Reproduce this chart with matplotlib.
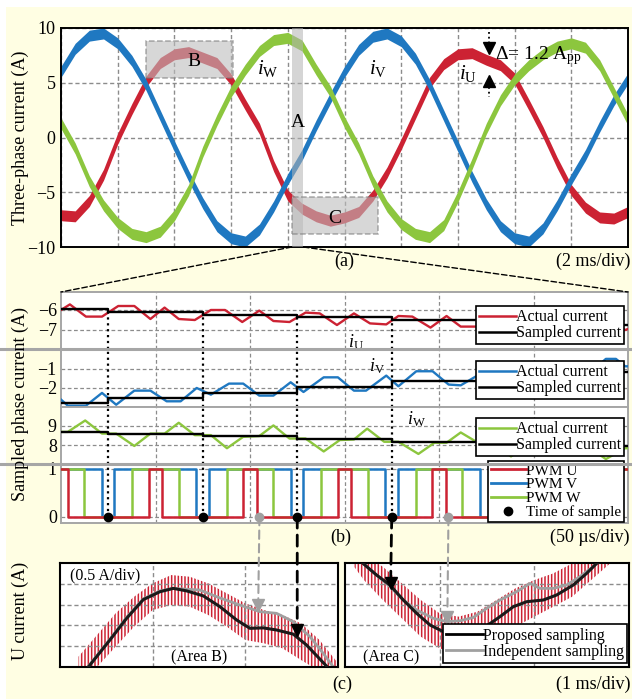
import numpy as np
import matplotlib
matplotlib.use('Agg')
import matplotlib.pyplot as plt
from matplotlib.patches import Rectangle, ConnectionPatch
from matplotlib.lines import Line2D

plt.rcParams['font.family'] = ['Liberation Serif', 'DejaVu Serif']
plt.rcParams['mathtext.fontset'] = 'custom'
plt.rcParams['mathtext.rm'] = 'Liberation Serif'
plt.rcParams['mathtext.it'] = 'Liberation Serif:italic'
plt.rcParams['hatch.linewidth'] = 1.1

RED = '#cc2233'
BLUE = '#1f78c1'
GREEN = '#8cc63e'
GRID = '#8c8c8c'
PANEL = '#a6a6a6'
LGRAY = '#a0a0a0'
YEL = '#fffee3'

# ---- (a) three-phase current, one value every 0.5 ms (ms, A)
t_a = np.linspace(0, 20, 41)
i_u = [-7.1, -7.2, -5.8, -3.4, -0.1, 2.6, 5.1, 6.8, 7.6, 7.8, 7.3, 6.8, 5.3, 3.0,
       0.8, -2.6, -5.3, -6.5, -7.2, -7.6, -7.3, -6.8, -5.3, -3.2, -0.6, 2.2, 5.0,
       6.7, 7.6, 7.7, 7.1, 6.6, 5.4, 3.0, 0.5, -2.3, -4.8, -6.4, -7.3, -7.4, -6.8]
i_v = [6.0, 8.1, 9.3, 9.5, 8.6, 7.0, 4.8, 2.0, -0.8, -3.5, -6.0, -8.1, -9.2, -9.5,
       -8.4, -6.3, -3.8, -1.6, 1.1, 3.6, 6.0, 8.0, 9.2, 9.5, 8.8, 7.2, 4.8, 2.0,
       -0.8, -3.6, -6.1, -8.1, -9.2, -9.5, -8.3, -6.2, -3.8, -1.6, 1.0, 3.4, 5.4]
i_w = [1.3, -1.0, -4.0, -6.2, -7.8, -8.8, -9.1, -8.6, -7.1, -4.8, -1.3, 1.6, 4.2,
       6.2, 7.9, 8.9, 9.1, 8.4, 6.2, 4.2, 1.4, -1.0, -4.0, -6.3, -7.9, -8.8, -9.1,
       -8.0, -5.4, -2.4, 0.8, 3.4, 5.3, 6.6, 7.6, 8.3, 8.6, 8.2, 6.6, 4.1, 1.6]
band_half = 0.5

# ---- (b) zoom of area A (us, A)
u_act_t = [0, 4.7, 13.2, 21.7, 30.3, 38.8, 47.3, 54.8, 62.3, 70.8, 79.3, 86.8, 95.9,
           104.9, 112.4, 120.9, 129.4, 136.9, 146.0, 155.0, 163.5, 172.1, 178.5,
           185.9, 195.5, 204.0, 211.5, 221.1, 229.6, 237.0, 245.6, 254.0, 262.7,
           271.2, 279.7, 288.3, 298.5, 300]
u_act = [-6.0, -5.72, -6.33, -6.33, -5.8, -5.8, -6.45, -5.88, -6.45, -6.5, -6.0, -6.0,
         -6.6, -6.03, -6.55, -6.6, -6.13, -6.17, -6.75, -6.17, -6.67, -6.72, -6.3,
         -6.33, -6.88, -6.3, -6.83, -6.83, -6.35, -6.4, -6.97, -6.42, -6.92, -6.97,
         -6.5, -6.55, -7.0, -6.95]
v_act_t = [0, 3.6, 13.2, 21.7, 29.2, 38.8, 47.3, 55.9, 63.3, 71.8, 79.3, 88.9, 96.4,
           104.9, 112.4, 121.5, 128.3, 139.0, 146.5, 155.0, 161.4, 172.1, 178.5,
           188.0, 196.6, 205.1, 211.5, 221.1, 227.5, 237.1, 245.6, 254.1, 262.7,
           271.2, 278.7, 288.3, 293.6, 298.5, 300]
v_act = [-2.61, -2.93, -2.93, -2.26, -2.88, -2.14, -2.14, -2.70, -2.70, -2.0, -2.35,
         -1.77, -1.77, -2.40, -2.40, -1.70, -2.21, -1.44, -1.44, -2.14, -2.14, -1.35,
         -1.91, -1.12, -1.12, -1.82, -1.86, -1.30, -1.82, -1.04, -1.04, -1.65, -1.65,
         -0.95, -1.30, -0.47, -0.47, -0.86, -0.86]
w_act_t = [0, 3.6, 12.8, 21.7, 29.2, 38.8, 47.3, 54.8, 62.3, 70.8, 79.3, 87.8, 96.4,
           104.9, 112.4, 120.9, 129.4, 139.0, 147.5, 155.0, 162.0, 171.0, 178.5,
           189.1, 197.6, 204.0, 211.5, 221.1, 228.5, 238.1, 246.7, 254.1, 261.6,
           270.1, 278.7, 288.3, 298.5, 300]
w_act = [8.69, 8.69, 9.29, 8.60, 8.60, 7.95, 8.60, 8.60, 9.17, 8.52, 8.52, 7.83, 8.43,
         8.47, 9.03, 8.34, 8.34, 7.66, 8.26, 8.29, 8.86, 8.17, 8.17, 7.53, 8.12, 8.12,
         8.66, 8.09, 8.09, 7.40, 8.0, 8.0, 8.57, 7.91, 7.91, 7.26, 7.83, 7.83]
samp_t = [0, 25, 75, 125, 175, 225, 275, 300]
u_samp = [-5.93, -6.08, -6.25, -6.37, -6.5, -6.63, -6.75, -6.75]
v_samp = [-2.77, -2.53, -2.26, -1.93, -1.62, -1.38, -1.15, -1.15]
w_samp = [8.69, 8.6, 8.48, 8.34, 8.17, 8.05, 7.95, 7.95]

pwm_u_t = [0, 3.7, 46.3, 53.7, 96.3, 103.7, 146.3, 153.7, 196.3, 203.7, 246.3, 253.7, 296.3, 300]
pwm_v_t = [0, 21.5, 28.3, 71.5, 78.3, 121.5, 128.3, 171.5, 178.3, 221.5, 228.3, 271.5, 278.3, 300]
pwm_w_t = [0, 12.3, 37.7, 62.3, 87.7, 112.3, 137.7, 162.3, 187.7, 212.3, 237.7, 262.3, 287.7, 300]
pwm_lvl = [1, 0, 1, 0, 1, 0, 1, 0, 1, 0, 1, 0, 1, 1]

sample_black = [25, 75, 125, 175]
sample_gray = [105, 205]

# ---- (c) U current, area B (ms, A)
b_prop_t = [0.306, 0.539, 0.719, 0.899, 1.079, 1.223, 1.366, 1.546, 1.726, 1.906,
            2.05, 2.193, 2.337, 2.517, 2.66, 2.877]
b_prop = [5.5, 6.15, 6.67, 7.12, 7.31, 7.39, 7.33, 7.21, 6.95, 6.63, 6.43, 6.44, 6.39,
          6.29, 6.03, 5.52]
b_ind_t = [0.30, 0.54, 0.72, 0.90, 1.08, 1.223, 1.51, 1.69, 1.94, 2.157, 2.337, 2.517,
           2.697, 2.84, 2.95]
b_ind = [5.5, 6.17, 6.70, 7.14, 7.33, 7.39, 7.35, 7.19, 6.99, 6.83, 6.79, 6.59, 6.23,
         5.83, 5.5]
b_band_t = [0.2, 0.4, 0.6, 0.8, 1.0, 1.2, 1.4, 1.6, 1.8, 2.0, 2.2, 2.4, 2.6, 2.8, 3.0]
b_band_hi = [5.75, 6.27, 6.79, 7.19, 7.51, 7.71, 7.67, 7.51, 7.27, 7.03, 6.87, 6.75,
             6.55, 6.15, 5.59]
b_band_lo = [5.3, 5.5, 5.99, 6.47, 6.87, 6.99, 6.95, 6.75, 6.47, 6.15, 6.07, 5.95,
             5.67, 5.4, 5.2]

# ---- (c) U current, area C (ms, A)
c_prop_t = [0.15, 0.211, 0.334, 0.475, 0.616, 0.757, 0.898, 1.038, 1.18, 1.32, 1.46,
            1.637, 1.778, 1.92, 2.094, 2.235, 2.411, 2.552, 2.658, 2.73]
c_prop = [-5.93, -6.05, -6.29, -6.53, -6.89, -7.21, -7.49, -7.65, -7.69, -7.65, -7.57,
          -7.29, -7.05, -6.93, -6.89, -6.77, -6.53, -6.25, -6.01, -5.93]
c_ind_t = [0.15, 0.211, 0.334, 0.475, 0.616, 0.757, 0.933, 1.074, 1.215, 1.355, 1.496,
           1.637, 1.813, 1.954, 2.059, 2.2, 2.34, 2.48, 2.62, 2.69]
c_ind = [-5.93, -6.05, -6.29, -6.57, -6.89, -7.13, -7.33, -7.41, -7.39, -7.31, -7.09,
         -6.89, -6.69, -6.49, -6.61, -6.61, -6.53, -6.33, -6.09, -5.93]
c_band_t = [0.1, 0.2, 0.4, 0.6, 0.8, 1.0, 1.2, 1.4, 1.6, 1.8, 2.0, 2.2, 2.4, 2.6, 2.8, 3.0]
c_band_hi = [-5.9, -5.8, -6.09, -6.49, -6.89, -7.21, -7.29, -7.17, -6.89, -6.61, -6.41,
             -6.25, -6.01, -5.7, -5.6, -5.5]
c_band_lo = [-6.1, -6.41, -6.89, -7.33, -7.77, -8.05, -8.21, -8.09, -7.85, -7.53, -7.29,
             -7.05, -6.81, -6.41, -6.01, -5.8]

W, H = 632, 699
fig = plt.figure(figsize=(W / 100, H / 100), dpi=100, facecolor='white')
fig.patches.append(Rectangle((6 / W, 0), 1, 1 - 7 / H, transform=fig.transFigure,
                             facecolor=YEL, edgecolor='none', zorder=-10))


def fax(l, t, r, b):
    return fig.add_axes([l / W, 1 - b / H, (r - l) / W, (b - t) / H])


def figy(y):
    return 1 - y / H


dash = (0, (3, 2))

# ================= (a)
ax = fax(61, 28, 628, 247)
for y, c in [(i_u, RED), (i_v, BLUE), (i_w, GREEN)]:
    y = np.array(y)
    ax.fill_between(t_a, y - band_half, y + band_half, color=c, lw=0, zorder=2)
ax.set_xlim(0, 20)
ax.set_ylim(-10, 10)
ax.set_xticks(range(0, 21, 2))
ax.set_xticklabels([])
ax.set_yticks([-10, -5, 0, 5, 10])
ax.set_yticklabels(['\u221210', '\u22125', '0', '5', '10'], fontsize=13)
ax.tick_params(length=0, pad=4)
ax.grid(True, ls=dash, color=GRID, lw=1)
for s in ax.spines.values():
    s.set_linewidth(1.4)
ax.axvspan(8.14, 8.55, color='#b4b4b4', alpha=0.55, lw=0, zorder=3)
for x0, y0 in [(3.0, 5.4), (8.14, -8.8)]:
    ax.add_patch(Rectangle((x0, y0), 3.05, 3.4, facecolor='#bdbdbd', alpha=0.6,
                           edgecolor='#777777', ls='--', lw=1.1, zorder=3))
ax.text(4.7, 6.9, 'B', fontsize=14, ha='center', va='center', zorder=5)
ax.text(9.67, -7.4, 'C', fontsize=14, ha='center', va='center', zorder=5)
ax.text(8.37, 1.4, 'A', fontsize=14, ha='center', va='center', zorder=5)
ax.text(7.3, 6.3, r'$i_{\mathrm{W}}$', fontsize=15, ha='center', va='center', zorder=5)
ax.text(11.2, 6.3, r'$i_{\mathrm{V}}$', fontsize=15, ha='center', va='center', zorder=5)
ax.text(14.37, 5.85, r'$i_{\mathrm{U}}$', fontsize=15, ha='center', va='center', zorder=5)
ax.plot([15.1, 15.1], [9.65, 8.7], ls=':', color='k', lw=1.3, zorder=5)
ax.plot([15.1, 15.1], [4.6, 3.7], ls=':', color='k', lw=1.3, zorder=5)
ax.plot(15.1, 8.2, marker='v', ms=9, color='k', zorder=5)
ax.plot(15.1, 5.2, marker='^', ms=9, color='k', zorder=5)
ax.text(15.3, 7.45, '\u0394= 1.2 A$_{\\mathrm{pp}}$', fontsize=14, ha='left', va='center',
        zorder=5)
ax_a = ax

fig.text(344 / W, figy(261), '(a)', ha='center', va='center', fontsize=13)
fig.text(630 / W, figy(261), '(2 ms/div)', ha='right', va='center', fontsize=13)
fig.text(20 / W, figy(138), 'Three-phase current (A)', rotation=90, ha='center',
         va='center', fontsize=13)

# ================= (b)
ax_u = fax(61, 292, 628, 349)
ax_v = fax(61, 349, 628, 407)
ax_w = fax(61, 407, 628, 464)
ax_p = fax(61, 464, 628, 523)
sub = [
    (ax_u, u_act_t, u_act, u_samp, RED, (-7.95, -5.1), [-7, -6], ['\u22127', '\u22126'], 0.754),
    (ax_v, v_act_t, v_act, v_samp, BLUE, (-3.0, 0.05), [-2, -1], ['\u22122', '\u22121'], 0.793),
    (ax_w, w_act_t, w_act, w_samp, GREEN, (7.0, 10.0), [8, 9], ['8', '9'], 0.807),
]


def style_b(a):
    a.set_xlim(0, 300)
    a.set_xticks([50, 100, 150, 200, 250])
    a.set_xticklabels([])
    a.tick_params(length=0, pad=3, labelsize=13)
    a.grid(True, ls=dash, color=GRID, lw=0.9)
    for s in a.spines.values():
        s.set_color(PANEL)
        s.set_linewidth(1.4)


def legend(a, handles, labels, anchor, loc='upper right', fs=11.5):
    lg = a.legend(handles, labels, loc=loc, bbox_to_anchor=anchor, fontsize=fs,
                  frameon=True, fancybox=False, edgecolor='black', framealpha=1,
                  borderpad=0.2, labelspacing=0.0, handlelength=2.3,
                  handletextpad=0.0, borderaxespad=0)
    lg.get_frame().set_linewidth(1.2)
    lg.set_zorder(10)
    return lg


for a, tt, yy, ss, c, yl, yt, ytl, ly in sub:
    style_b(a)
    a.plot(tt, yy, color=c, lw=1.7, zorder=3)
    a.plot(samp_t, ss, color='black', lw=1.7, drawstyle='steps-post', zorder=4)
    a.set_ylim(*yl)
    a.set_yticks(yt)
    a.set_yticklabels(ytl)
    legend(a, [Line2D([], [], color=c, lw=1.8), Line2D([], [], color='black', lw=1.8)],
           ['Actual current', 'Sampled current'], (0.993, ly))

ax_u.text(156, -7.6, r'$i_{\mathrm{U}}$', fontsize=13, ha='center', va='center')
ax_v.text(167, -0.84, r'$i_{\mathrm{V}}$', fontsize=13, ha='center', va='center')
ax_w.text(188, 9.37, r'$i_{\mathrm{W}}$', fontsize=13, ha='center', va='center')

style_b(ax_p)
ax_p.plot(pwm_v_t, pwm_lvl, color=BLUE, lw=1.8, drawstyle='steps-post', zorder=3)
ax_p.plot(pwm_w_t, pwm_lvl, color=GREEN, lw=1.8, drawstyle='steps-post', zorder=3)
ax_p.plot(pwm_u_t, pwm_lvl, color=RED, lw=1.8, drawstyle='steps-post', zorder=3)
ax_p.set_ylim(-0.125, 1.1)
ax_p.set_yticks([0, 1])
ax_p.set_yticklabels(['0', '1'])
legend(ax_p, [Line2D([], [], color=RED, lw=2), Line2D([], [], color=BLUE, lw=2),
              Line2D([], [], color=GREEN, lw=2),
              Line2D([], [], color='black', marker='o', ms=6, ls='none')],
       ['PWM U', 'PWM V', 'PWM W', 'Time of sample'], (0.993, 1.05), fs=11)

# sampling instants (dotted)
for i, ts in enumerate(sample_black):
    ax_u.vlines(ts, -7.95, u_samp[i + 1], colors='black', linestyles=':', lw=1.6, zorder=5)
    ax_v.axvline(ts, color='black', ls=':', lw=1.6, zorder=5)
    ax_w.axvline(ts, color='black', ls=':', lw=1.6, zorder=5)
    ax_p.vlines(ts, 0, 1.1, colors='black', linestyles=':', lw=1.6, zorder=5)
ax_p.plot(sample_black, [0] * len(sample_black), 'o', color='black', ms=6, zorder=6,
          clip_on=False)
ax_p.plot(sample_gray, [0] * len(sample_gray), 'o', color=LGRAY, ms=6, zorder=6,
          clip_on=False)

for y in (349, 464):
    fig.add_artist(Line2D([0, 1], [figy(y)] * 2, transform=fig.transFigure,
                          color=PANEL, lw=2.2))

fig.text(341 / W, figy(537), '(b)', ha='center', va='center', fontsize=13)
fig.text(630 / W, figy(537), '(50 \u00b5s/div)', ha='right', va='center', fontsize=13)
fig.text(20 / W, figy(404), 'Sampled phase current (A)', rotation=90, ha='center',
         va='center', fontsize=13)

# zoom lines from area A
for xa, xb in [(8.14, 0), (8.55, 1)]:
    fig.add_artist(ConnectionPatch(xyA=(xa, -10), coordsA='data', axesA=ax_a,
                                   xyB=(xb, 1), coordsB='axes fraction', axesB=ax_u,
                                   color='black', lw=1.0, ls=(0, (4, 2))))

# ================= (c)
ax_b = fax(60, 563, 338, 667)
ax_c = fax(345, 563, 629, 667)
for a, yl in [(ax_b, (5.5, 8.0)), (ax_c, (-8.5, -6.0))]:
    a.set_xlim(0, 3)
    a.set_ylim(*yl)
    a.set_xticks([1, 2])
    a.set_yticks(np.linspace(yl[0], yl[1], 6)[1:-1])
    a.set_xticklabels([])
    a.set_yticklabels([])
    a.tick_params(length=0)
    a.grid(True, ls=dash, color=GRID, lw=1)
    for s in a.spines.values():
        s.set_linewidth(1.5)

ax_b.fill_between(b_band_t, b_band_lo, b_band_hi, facecolor='none', edgecolor=RED,
                  hatch='|||||', lw=0, zorder=1)
ax_b.plot(b_ind_t, b_ind, color=LGRAY, lw=2, zorder=2)
ax_b.plot(b_prop_t, b_prop, color='#1a1a1a', lw=2.2, zorder=3)
ax_b.plot(2.14, 6.99, marker='v', ms=9, color=LGRAY, zorder=4)
ax_b.plot(2.56, 6.39, marker='v', ms=9, color='black', zorder=4)
ax_b.text(0.036, 0.885, '(0.5 A/div)', transform=ax_b.transAxes, fontsize=11.5,
          ha='left', va='center')
ax_b.text(0.5, 0.09, '(Area B)', transform=ax_b.transAxes, fontsize=11.5,
          ha='center', va='center')

ax_c.fill_between(c_band_t, c_band_lo, c_band_hi, facecolor='none', edgecolor=RED,
                  hatch='|||||', lw=0, zorder=1)
ax_c.plot(c_ind_t, c_ind, color=LGRAY, lw=2, zorder=2)
ax_c.plot(c_prop_t, c_prop, color='#1a1a1a', lw=2.2, zorder=3)
ax_c.plot(1.082, -7.31, marker='v', ms=9, color=LGRAY, zorder=4)
ax_c.plot(0.483, -6.49, marker='v', ms=9, color='black', zorder=4)
ax_c.text(0.063, 0.09, '(Area C)', transform=ax_c.transAxes, fontsize=11.5,
          ha='left', va='center')
legend(ax_c, [Line2D([], [], color='black', lw=2), Line2D([], [], color=LGRAY, lw=2)],
       ['Proposed sampling', 'Independent sampling'], (0.993, 0.04), loc='lower right')

# arrows from sample instants to (c)
for ts, axc, xy, col, lw in [(125, ax_b, (2.56, 6.55), 'black', 2.0),
                             (105, ax_b, (2.14, 7.15), LGRAY, 1.5),
                             (175, ax_c, (0.483, -6.33), 'black', 2.0),
                             (205, ax_c, (1.082, -7.15), LGRAY, 1.5)]:
    fig.add_artist(ConnectionPatch(xyA=(ts, 0), coordsA='data', axesA=ax_p,
                                   xyB=xy, coordsB='data', axesB=axc,
                                   color=col, lw=lw, ls=(0, (4, 2.5))))

fig.text(342 / W, figy(684), '(c)', ha='center', va='center', fontsize=13)
fig.text(630 / W, figy(684), '(1 ms/div)', ha='right', va='center', fontsize=13)
fig.text(20 / W, figy(611), 'U current (A)', rotation=90, ha='center', va='center',
         fontsize=13)

fig.savefig('out.png', dpi=100, facecolor=fig.get_facecolor())
